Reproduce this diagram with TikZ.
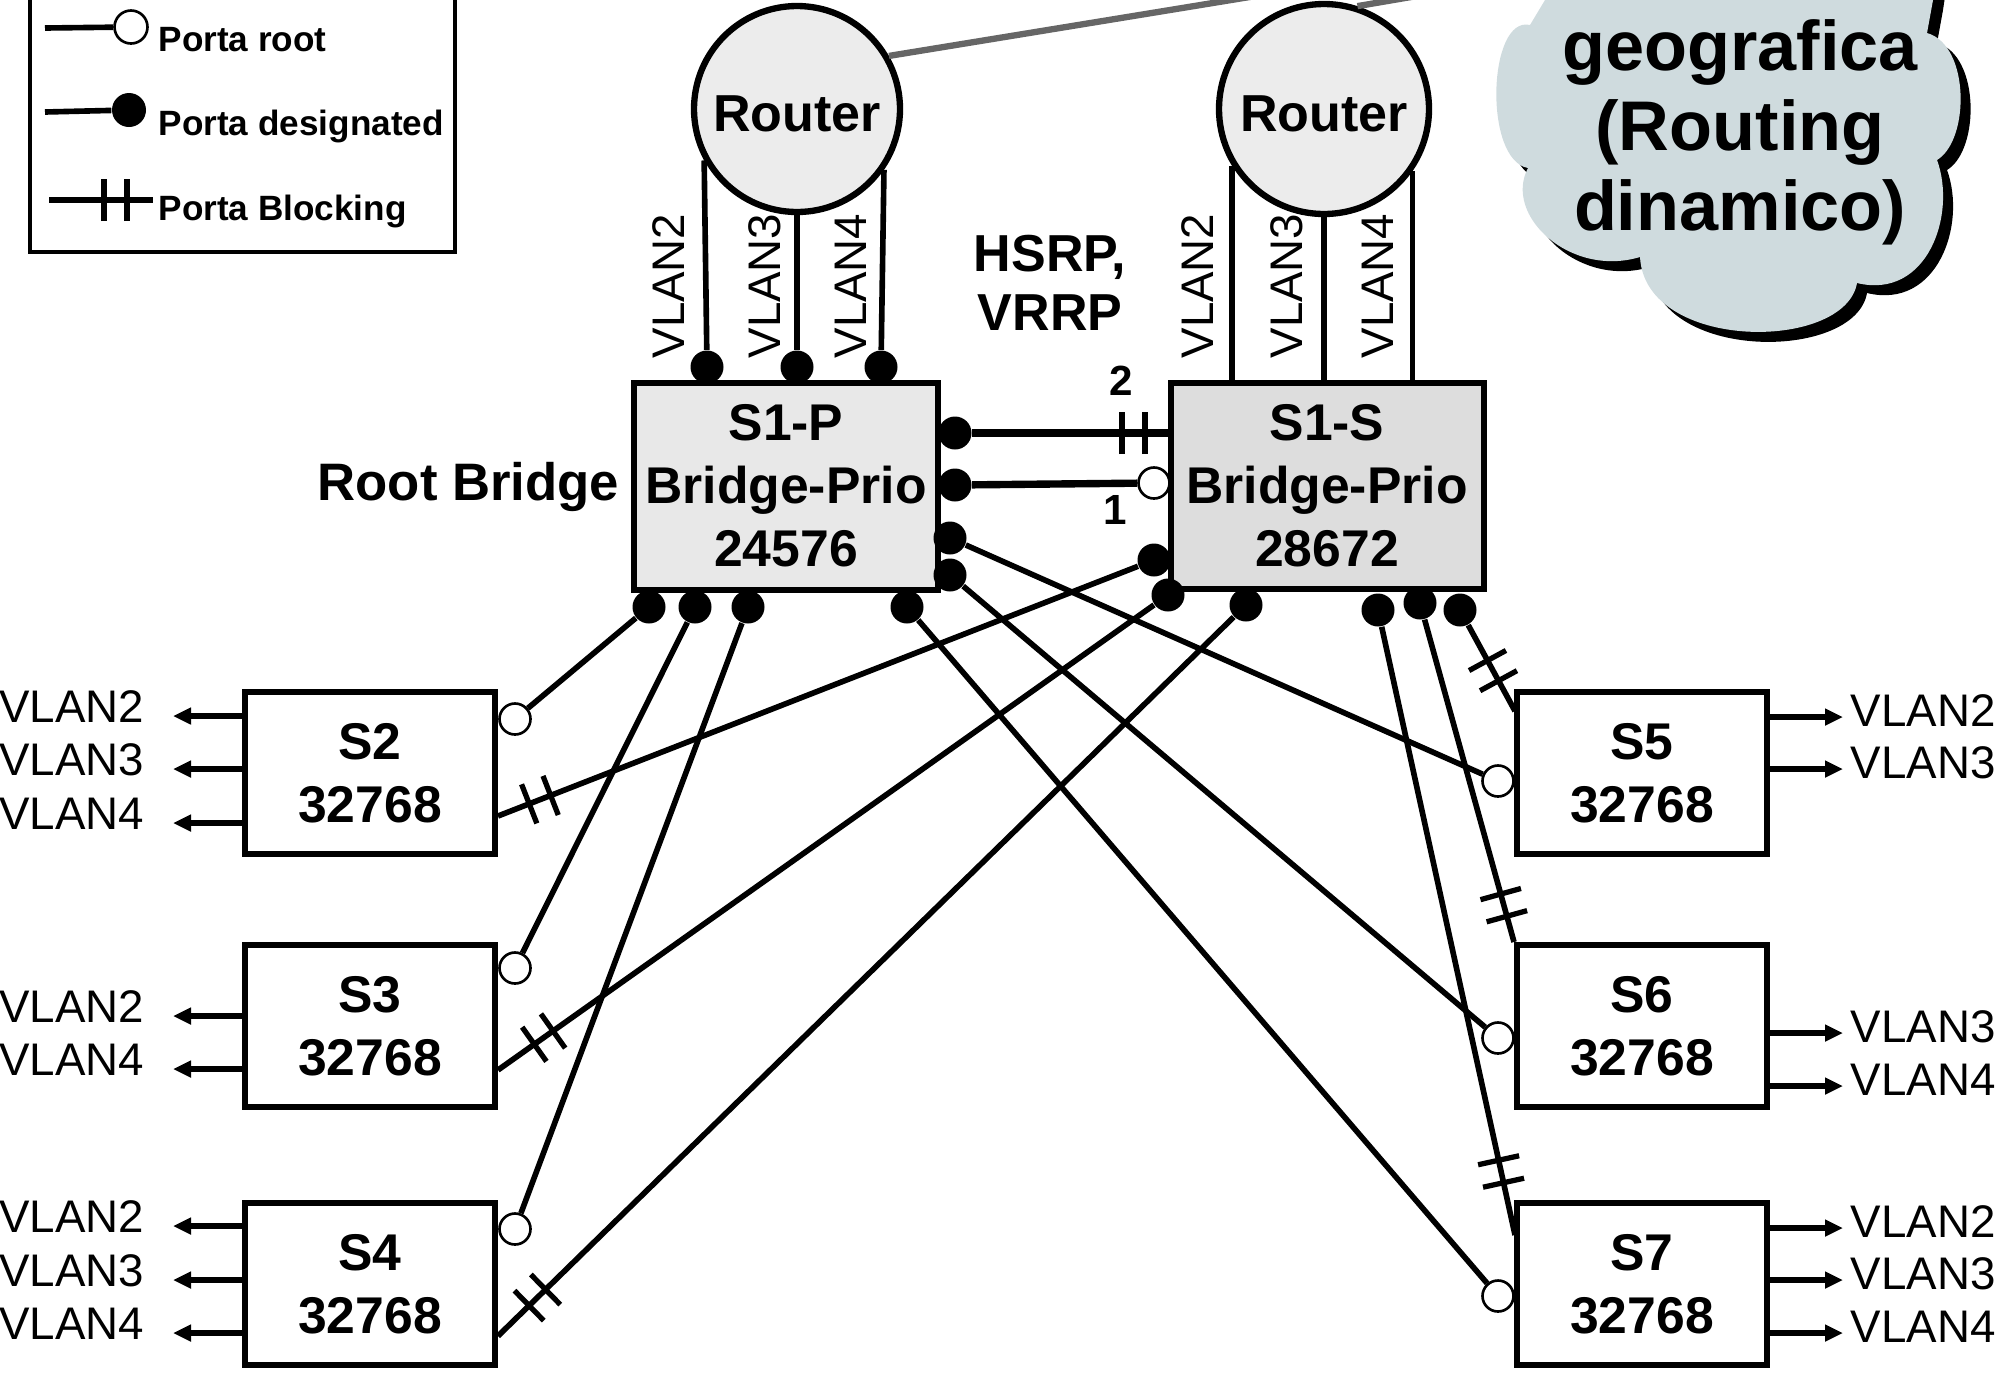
\documentclass[tikz,border=0pt]{standalone}
\usepackage{fontspec}
\setmainfont{Liberation Sans}
\usepackage{xcolor}
\usepackage{tikz}
\usetikzlibrary{calc,arrows.meta,decorations.markings}

\definecolor{grigioSP}{RGB}{232,232,232}
\definecolor{grigioSS}{RGB}{221,221,221}
\definecolor{grigioRouter}{RGB}{236,236,236}
\definecolor{nuvolaCol}{RGB}{207,219,222}
\definecolor{grigioWan}{RGB}{102,102,102}

\begin{document}
\begin{tikzpicture}[x=0.1mm,y=-0.1mm,
		sw/.style={draw,line width=1.7pt,minimum width=25mm,minimum height=16.2mm,align=center,font=\bfseries\fontsize{14.7}{17.9}\selectfont},
		rtr/.style={circle,draw,line width=1.8pt,fill=grigioRouter,inner sep=0pt,text height=4.5mm,text depth=0pt,font=\bfseries\fontsize{14.8}{17}\selectfont},
		desig/.style={circle,fill=black,inner sep=0pt,minimum size=3.3mm},
		radice/.style={circle,draw,line width=0.75pt,fill=white,inner sep=0pt,minimum size=3.1mm},
		cavo/.style={line width=1.6pt},
		blocco/.style={postaction={decorate},decoration={markings,mark=at position #1 with {\draw[line width=1.5pt] (-1.15mm,-2.1mm) -- (-1.15mm,2.1mm) (1.15mm,-2.1mm) -- (1.15mm,2.1mm);}}},
		vlanfr/.style={line width=1.6pt,-{Triangle[length=1.8mm,width=1.6mm]}},
		vlan/.style={font=\fontsize{13}{15}\selectfont,inner sep=0pt},
		lgd/.style={anchor=base west,inner sep=0pt,font=\bfseries\fontsize{10}{12}\selectfont}]
	\useasboundingbox (0,0) rectangle (2007,1372);
	\clip (0,0) rectangle (2007,1372);
	
	% nuvola (rete geografica)
	\def\nuvola{(1565,-80) -- (1545,0) -- (1530,25) .. controls (1488,15) and (1483,160) .. (1528,168) .. controls (1503,215) and (1570,278) .. (1640,257) .. controls (1645,352) and (1845,352) .. (1857,283) .. controls (1927,300) and (1957,215) .. (1937,160) .. controls (1970,140) and (1970,45) .. (1927,33) -- (1933,0) -- (1945,-80) -- cycle}
	\fill[black,shift={(10,10)}] \nuvola;
	\fill[nuvolaCol] \nuvola;
	\node[align=center,font=\bfseries\fontsize{20}{22.8}\selectfont] (wan) at (1740,132) {geografica\\(Routing\\dinamico)};
	
	% legenda
	\draw[line width=1.2pt] (30,-20) rectangle (455,252);
	\node[radice,minimum size=3.3mm] (lr) at (131,27) {};
	\coordinate (lr0) at (45,28);
	\draw[cavo] (lr0) -- (lr);
	\node[lgd] (lrt) at (158,51) {Porta root};
	\node[desig,minimum size=3.4mm] (ld) at (129,110) {};
	\coordinate (ld0) at (45,112);
	\draw[cavo] (ld0) -- (ld);
	\node[lgd] (ldt) at (158,135) {Porta designated};
	\coordinate (lb0) at (49,200);
	\coordinate (lb1) at (153,200);
	\draw[cavo,blocco=-3.75mm] (lb0) -- (lb1);
	\node[lgd] (lbt) at (158,220) {Porta Blocking};
	
	% router
	\node[rtr,minimum size=20.6mm] (rA) at (797,109) {Router};
	\node[rtr,minimum size=21mm] (rB) at (1324,109) {Router};
	\coordinate (wanA) at (1476,-40);
	\coordinate (wanB) at (1628,-40);
	\draw[grigioWan,line width=1.8pt] (rA.30) -- (wanA);
	\draw[grigioWan,line width=1.8pt] (rB.72) -- (wanB);
	
	% switch centrali
	\node[sw,fill=grigioSP,minimum width=30mm,minimum height=20.7mm] (s1p) at (786,486) {S1-P\\Bridge-Prio\\24576};
	\node[sw,fill=grigioSS,minimum width=31.3mm,minimum height=20.6mm] (s1s) at (1327,486) {S1-S\\Bridge-Prio\\28672};
	\node[anchor=base east,inner sep=0pt,font=\bfseries\fontsize{15}{17}\selectfont] (rootb) at (620,500) {Root Bridge};
	\node[align=center,font=\bfseries\fontsize{14.8}{16.8}\selectfont] (hsrp) at (1050,283) {HSRP,\\VRRP};
	
	% switch di accesso
	\node[sw] (s2) at (370,773) {S2\\32768};
	\node[sw] (s3) at (370,1026) {S3\\32768};
	\node[sw] (s4) at (370,1284) {S4\\32768};
	\node[sw] (s5) at (1642,773) {S5\\32768};
	\node[sw] (s6) at (1642,1026) {S6\\32768};
	\node[sw] (s7) at (1642,1284) {S7\\32768};
	
	% VLAN verso i router
	\foreach \nm/\xx in {dA2/707,dA3/797,dA4/881} { \node[desig] (\nm) at (\xx,367) {}; }
	\draw[cavo] (rA.209) -- (dA2);
	\draw[cavo] (rA.south) -- (dA3);
	\draw[cavo] (rA.-35) -- (dA4);
	\draw[cavo] (rB.212) -- (rB.212 |- s1s.north);
	\draw[cavo] (rB.south) -- (rB.south |- s1s.north);
	\draw[cavo] (rB.-35) -- (rB.-35 |- s1s.north);
	\foreach \nm/\xx/\lab in {vA2/669/VLAN2,vA3/765/VLAN3,vA4/851/VLAN4,vB2/1198/VLAN2,vB3/1287/VLAN3,vB4/1378/VLAN4} {
		\node[vlan,rotate=90] (\nm) at (\xx,286) {\lab};
	}
	
	% porte designated
	\foreach \nm/\xx/\yy in {r1/955/433,r2/955/485,r3/950/538,r4/950/575,b1/649/607,b2/695/607,b3/748/607,b4/907/607,
		k2/1154/560,k3/1168/595,k4/1246/605,k5/1378/610,k6/1420/603,k7/1460/610} {
		\node[desig] (\nm) at (\xx,\yy) {};
	}
	% porte root
	\foreach \nm/\xx/\yy in {k1/1154/483,s2r/515/719,s3r/515/968,s4r/515/1229,s5r/1498/781,s6r/1498/1038,s7r/1498/1296} {
		\node[radice] (\nm) at (\xx,\yy) {};
	}
	\coordinate (s2b) at (498,816);
	\coordinate (s3b) at (498,1070);
	\coordinate (s4b) at (498,1336);
	\coordinate (s5b) at (1515,711);
	\coordinate (s7b) at (1515,1235);
	
	% collegamenti S1-P -- S1-S
	\draw[line width=2.1pt,blocco=-3.4mm] (r1) -- (s1s.west |- r1);
	\draw[line width=2.1pt] (r2) -- (k1);
	\node[font=\bfseries\fontsize{12}{14}\selectfont] (n2) at (1121,381) {2};
	\node[font=\bfseries\fontsize{12}{14}\selectfont] (n1) at (1115,510) {1};
	
	% collegamenti verso S2..S4
	\draw[cavo] (b1) -- (s2r);
	\draw[cavo] (b2) -- (s3r);
	\draw[cavo] (b3) -- (s4r);
	\draw[cavo,blocco=4.5mm] (s2b) -- (k2);
	\draw[cavo,blocco=5.6mm] (s3b) -- (k3);
	\draw[cavo,blocco=5.5mm] (s4b) -- (k4);
	
	% collegamenti verso S5..S7
	\draw[cavo] (r3) -- (s5r);
	\draw[cavo] (r4) -- (s6r);
	\draw[cavo] (b4) -- (s7r);
	\draw[cavo,blocco=-4.6mm] (k7) -- (s5b);
	\draw[cavo,blocco=-3.8mm] (k6) -- (s6.north west);
	\draw[cavo,blocco=-6.5mm] (k5) -- (s7b);
	
	% VLAN di accesso
	\foreach \yy/\lab in {716/VLAN2,769/VLAN3,823/VLAN4,1016/VLAN2,1069/VLAN4,1226/VLAN2,1280/VLAN3,1333/VLAN4} {
		\draw[vlanfr] (245,\yy) -- (173,\yy) node[vlan,anchor=east,xshift=-2.6mm,yshift=0.9mm] (vl\yy) {\lab};
	}
	\foreach \yy/\lab in {717/VLAN2,769/VLAN3,1033/VLAN3,1086/VLAN4,1228/VLAN2,1280/VLAN3,1333/VLAN4} {
		\draw[vlanfr] (1768,\yy) -- (1843,\yy) node[vlan,anchor=west,xshift=0.5mm,yshift=0.6mm] (vr\yy) {\lab};
	}
\end{tikzpicture}
\end{document}
